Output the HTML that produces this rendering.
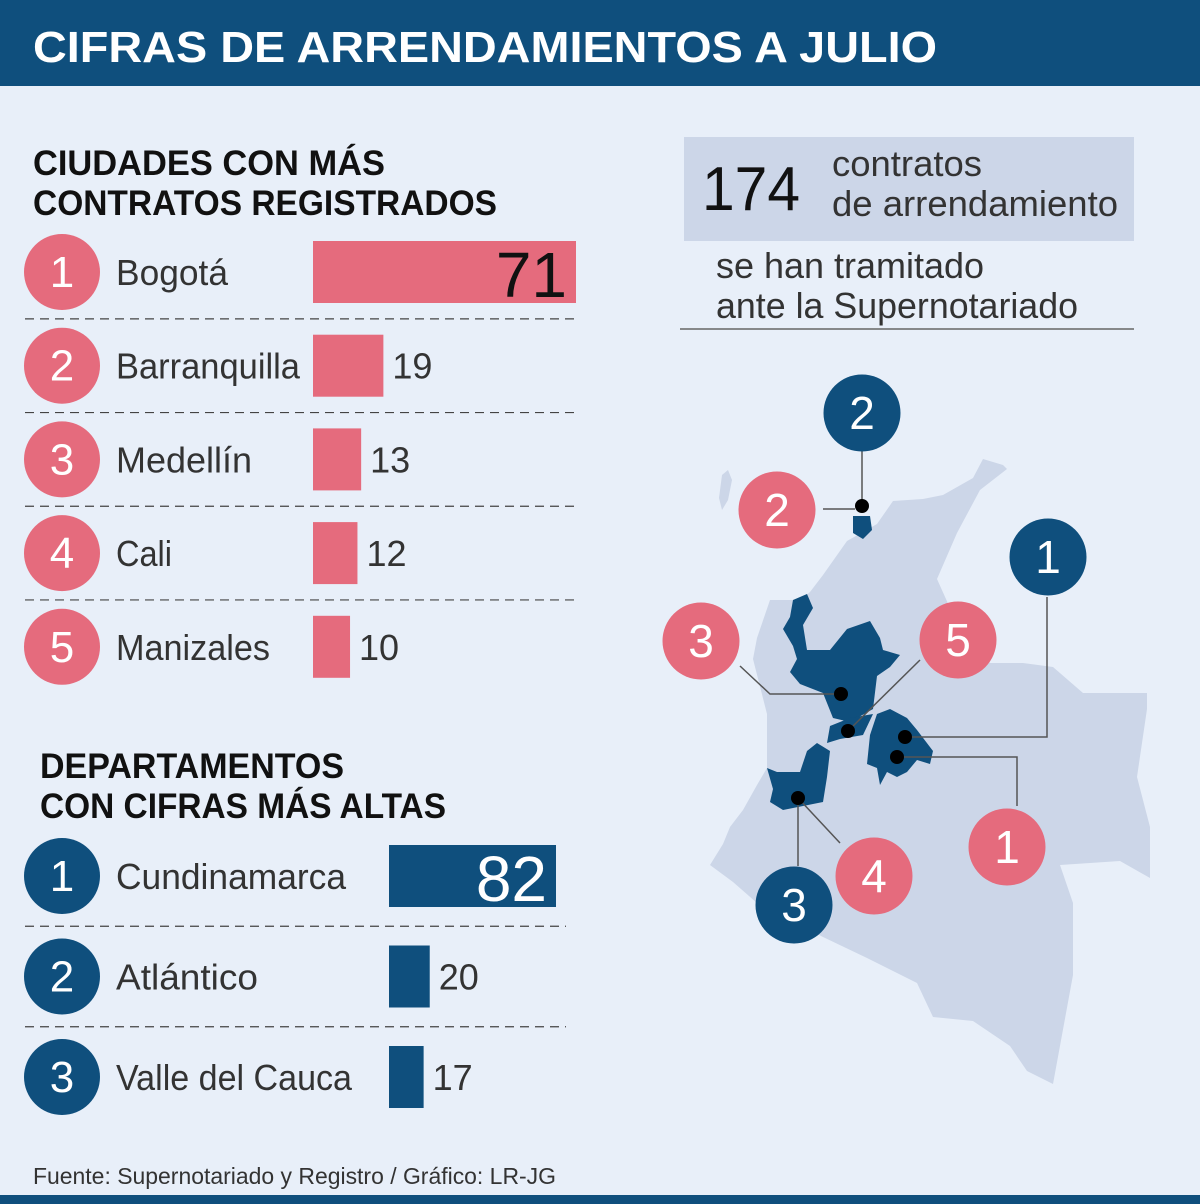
<!DOCTYPE html>
<html><head><meta charset="utf-8"><style>
html,body{margin:0;padding:0;background:#e8eff9}
svg{display:block}
text{font-family:"Liberation Sans Narrow","Liberation Sans",sans-serif}
</style></head><body>
<svg id="chart" width="1200" height="1204" viewBox="0 0 1200 1204" xmlns="http://www.w3.org/2000/svg">
<rect x="0" y="0" width="1200" height="1204" fill="#e8eff9"/>
<rect x="0" y="0" width="1200" height="86" fill="#0f4f7d"/>
<text x="33" y="62" font-size="44" font-weight="bold" fill="#fff" textLength="904" lengthAdjust="spacingAndGlyphs">CIFRAS DE ARRENDAMIENTOS A JULIO</text>
<rect x="0" y="1195" width="1200" height="9" fill="#0f4f7d"/>

<text font-size="35" font-weight="bold" fill="#111">
<tspan x="33" y="175" textLength="352" lengthAdjust="spacingAndGlyphs">CIUDADES CON MÁS</tspan>
<tspan x="33" y="215" textLength="464" lengthAdjust="spacingAndGlyphs">CONTRATOS REGISTRADOS</tspan></text>
<text font-size="35" font-weight="bold" fill="#111">
<tspan x="40" y="778" textLength="304" lengthAdjust="spacingAndGlyphs">DEPARTAMENTOS</tspan>
<tspan x="40" y="818" textLength="406" lengthAdjust="spacingAndGlyphs">CON CIFRAS MÁS ALTAS</tspan></text>

<g id="cities"></g>
<g id="depts"></g>

<rect x="684" y="137" width="450" height="104" fill="#ccd6e8"/>
<text x="702" y="210" font-size="62" fill="#111" textLength="98" lengthAdjust="spacingAndGlyphs">174</text>
<text font-size="36" fill="#333">
<tspan x="832" y="176" textLength="150" lengthAdjust="spacingAndGlyphs">contratos</tspan>
<tspan x="832" y="216" textLength="286" lengthAdjust="spacingAndGlyphs">de arrendamiento</tspan></text>
<text font-size="36" fill="#333">
<tspan x="716" y="278" textLength="268" lengthAdjust="spacingAndGlyphs">se han tramitado</tspan>
<tspan x="716" y="318" textLength="362" lengthAdjust="spacingAndGlyphs">ante la Supernotariado</tspan></text>
<line x1="680" y1="329" x2="1134" y2="329" stroke="#666" stroke-width="1.5"/>

<g>
<polygon fill="#ccd6e8" points="1003,465 983,459 973,478 943,495 923,499 893,501 877,524 847,541 823,575 810,592 800,600 770,600 757,638 753,659 767,714 767,743 767,768 757,785 743,810 730,827 723,844 710,865 733,882 757,903 823,937 867,958 917,983 933,1017 973,1021 1010,1046 1027,1071 1053,1084 1073,975 1073,903 1060,865 1120,861 1150,878 1150,827 1137,777 1147,709 1147,693 1083,693 1053,667 1023,663 990,663 950,608 937,579 957,533 980,490 1007,469"/>
<polygon fill="#ccd6e8" points="722,475 728,470 732,480 728,500 722,510 719,498"/>
<polygon fill="#0f4f7d" points="807,594 813,608 803,625 807,650 830,650 847,629 870,621 880,638 883,650 900,655 890,667 877,676 873,709 850,722 833,718 823,693 800,684 790,672 797,659 793,646 783,629 790,617 793,600"/>
<polygon fill="#0f4f7d" points="830,726 850,718 873,714 863,735 840,739 827,743"/>
<polygon fill="#0f4f7d" points="877,714 890,709 907,718 917,730 933,751 930,764 917,760 907,772 897,777 887,772 880,785 877,768 867,764 870,735"/>
<polygon fill="#0f4f7d" points="817,743 830,751 827,777 823,802 803,806 783,810 770,802 773,789 767,768 777,772 800,772 807,751"/>
<polygon fill="#0f4f7d" points="853,516 870,516 872,530 863,539 853,533"/>
<g fill="none" stroke="#555" stroke-width="1.5">
<polyline points="862,451 862,506"/>
<polyline points="823,509 855,509"/>
<polyline points="1047,597 1047,737 905,737"/>
<polyline points="740,666 770,694 841,694"/>
<polyline points="920,660 848,731"/>
<polyline points="1017,806 1017,757 897,757"/>
<polyline points="840,843 798,798"/>
<polyline points="798,866 798,798"/>
</g>
<g fill="#000">
<circle cx="862" cy="506" r="7"/>
<circle cx="841" cy="694" r="7"/>
<circle cx="848" cy="731" r="7"/>
<circle cx="905" cy="737" r="7"/>
<circle cx="897" cy="757" r="7"/>
<circle cx="798" cy="798" r="7"/>
</g>
<g id="mapmarks"></g>
</g>

<text x="33" y="1184" font-size="23" fill="#333" textLength="523" lengthAdjust="spacingAndGlyphs">Fuente: Supernotariado y Registro / Gráfico: LR-JG</text>
</svg>
<script>
const cityNames = ["Bogotá","Barranquilla","Medellín","Cali","Manizales"];
const cityValues = [71,19,13,12,10];
const deptNames = ["Cundinamarca","Atlántico","Valle del Cauca"];
const deptValues = [82,20,17];

const NS="http://www.w3.org/2000/svg";
function mk(tag,attrs,parent,text){const e=document.createElementNS(NS,tag);for(const k in attrs)e.setAttribute(k,attrs[k]);if(text!==undefined)e.textContent=text;parent.appendChild(e);return e;}
const PINK="#e56b7d",NAVY="#0f4f7d";
const labelW={"Bogotá":112,"Barranquilla":184,"Medellín":136,"Cali":56,"Manizales":154,"Cundinamarca":230,"Atlántico":142,"Valle del Cauca":236};

function drawRows(g,names,values,opt){
  const xs=v=>v*opt.scale;
  names.forEach((n,i)=>{
    const cy=opt.y0+i*opt.step;
    const c=mk('circle',{cx:62,cy:cy,r:38,fill:opt.color},g);
    
    
    const rt=mk('text',{x:62,y:cy+15,'font-size':44,fill:'#fff','text-anchor':'middle'},g,String(i+1));
    
    
    const lt=mk('text',{x:116,y:cy+13,'font-size':36,fill:'#333',textLength:labelW[n],lengthAdjust:'spacingAndGlyphs'},g,n);
    
    
    const w=xs(values[i]);
    const b=mk('rect',{x:opt.bx,y:cy-31,width:w,height:62,fill:opt.color},g);
    
    
    if(i===0){
      const vt=mk('text',{x:opt.bx+w-9,y:cy+25,'font-size':64,fill:opt.bigColor,'text-anchor':'end'},g,String(values[i]));
      
      
    } else {
      const vt=mk('text',{x:opt.bx+w+9,y:cy+13,'font-size':36,fill:'#333'},g,String(values[i]));
      
      
    }
    if(i<names.length-1){
      const ln=mk('line',{x1:25,x2:opt.lx2,y1:cy+opt.step/2,y2:cy+opt.step/2,stroke:'#444','stroke-width':1.2,'stroke-dasharray':'9,6'},g);
      
      
    }
  });
}
drawRows(document.getElementById('cities'),cityNames,cityValues,{y0:272,step:93.7,bx:313,scale:263/71,color:PINK,bigColor:'#111',lx2:580});
drawRows(document.getElementById('depts'),deptNames,deptValues,{y0:876,step:100.5,bx:389,scale:167/82,color:NAVY,bigColor:'#fff',lx2:566});

const markers=[[862,413,NAVY,"2"],[777,510,PINK,"2"],[1048,557,NAVY,"1"],[701,641,PINK,"3"],[958,640,PINK,"5"],[1007,847,PINK,"1"],[874,876,PINK,"4"],[794,905,NAVY,"3"]];
const mm=document.getElementById('mapmarks');
markers.forEach(m=>{
  const c=mk('circle',{cx:m[0],cy:m[1],r:38.5,fill:m[2]},mm);
  
  
  const t=mk('text',{x:m[0],y:m[1]+16,'font-size':46,fill:'#fff','text-anchor':'middle'},mm,m[3]);
  
  
});
</script>
</body></html>
